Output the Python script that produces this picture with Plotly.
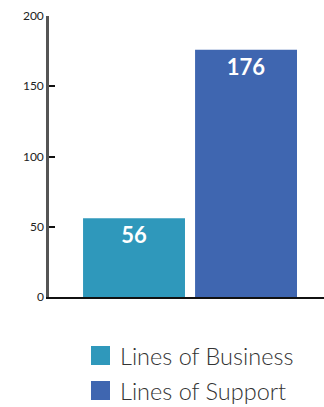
import plotly.graph_objects as go

categories = ["Lines of Business", "Lines of Support"]
values = [56, 176]
colors = ["#2f98bb", "#3f66b0"]
tick_vals = [0, 50, 100, 150, 200]

W, H = 324, 407
ML, MR, MT, MB = 49, 0, 16, 110
pw, ph = W - ML - MR, H - MT - MB

def px(xp):
    return (xp - ML) / pw

def py(yp):
    return (H - MB - yp) / ph

fig = go.Figure()
for i, (c, v, col) in enumerate(zip(categories, values, colors)):
    fig.add_trace(go.Bar(
        x=[i], y=[v], name=c, marker=dict(color=col, line=dict(width=0)),
        width=0.91, text=[str(v)], textposition="inside", insidetextanchor="end",
        textfont=dict(family="Lato", size=22, color="white", weight="bold"),
        showlegend=False,
    ))

# custom legend (larger swatches than plotly's native legend allows)
shapes, annotations = [], []
sq, top0, step = 19, 346, 35
for i, (c, col) in enumerate(zip(categories, colors)):
    t = top0 + i * step
    shapes.append(dict(type="rect", xref="paper", yref="paper",
                       x0=px(91), x1=px(91 + sq), y0=py(t + sq), y1=py(t),
                       fillcolor=col, line=dict(width=0)))
    annotations.append(dict(xref="paper", yref="paper", x=px(118), y=py(t + sq / 2),
                            xanchor="left", yanchor="middle", showarrow=False, text=c,
                            font=dict(family="Lato", size=23.5, color="#333333", weight=300)))

fig.update_layout(
    width=W, height=H, margin=dict(l=ML, r=MR, t=MT, b=MB),
    paper_bgcolor="white", plot_bgcolor="white", barmode="overlay",
    showlegend=False, shapes=shapes, annotations=annotations,
    font=dict(family="Lato"),
)
fig.update_xaxes(range=[-0.759, 1.696], showticklabels=False, ticks="",
                 showgrid=False, zeroline=False, showline=True,
                 linecolor="#111111", linewidth=2, fixedrange=True)
fig.update_yaxes(range=[0, 200], tickvals=tick_vals, ticks="inside", ticklen=6,
                 tickcolor="#111111", tickwidth=1.5, showgrid=False, zeroline=False,
                 showline=True, linecolor="#555555", linewidth=2.5,
                 tickfont=dict(family="Lato", size=12, color="#222222"))
fig.write_html("out.html")
